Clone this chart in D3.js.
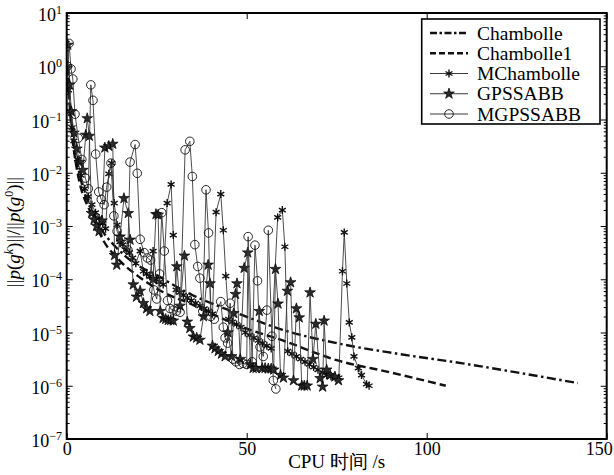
<!DOCTYPE html>
<html>
<head>
<meta charset="utf-8">
<script src="https://cdn.jsdelivr.net/npm/d3@7"></script>
<style>
  body { margin: 0; background: #fff; }
  svg text { font-family: "Liberation Serif", "Times New Roman", Times, "DejaVu Serif", serif; fill: #000; }
</style>
</head>
<body>
<svg id="chart" width="614" height="475"></svg>
<script>
// values: [CPU time (s), log10 of the ratio]
const chambolle = [
  [0.3, 0], [0.8, -0.6], [1.5, -1.2], [2.5, -1.65], [4, -2.15], [5, -2.4], [6, -2.55],
  [8, -2.85], [10, -3.1], [13, -3.35], [16, -3.55], [20, -3.75], [25, -3.92], [28.7, -4.07],
  [35, -4.3], [42, -4.5], [49, -4.68], [60, -4.95], [75, -5.2], [92, -5.4], [110, -5.58],
  [125, -5.75], [142, -5.95]
];
const chambolle1 = [
  [0.3, 0], [0.8, -0.7], [1.5, -1.3], [2.5, -1.8], [4, -2.3], [5, -2.5], [6, -2.65],
  [8, -2.95], [10, -3.25], [14, -3.6], [20, -3.95], [27, -4.25], [34, -4.45], [42, -4.7],
  [49, -4.9], [60, -5.15], [75, -5.52], [90, -5.75], [105.3, -6.0]
];
const mchambolle = [
  [0.15, 0], [0.5, -0.45], [1, -0.85], [1.5, -1.15], [2, -1.4], [3, -1.75], [4, -2.05],
  [5, -2.3], [6, -2.45], [7, -2.6], [8, -2.75], [9, -2.85], [10, -2.95], [10.8, -3.05],
  [11.7, -2.02], [12.5, -1.82], [13.2, -2.57], [14, -2.98], [14.8, -3.3], [15.6, -3.35],
  [16.5, -3.45], [17.4, -3.5], [18.3, -3.6], [19.2, -3.7], [20.4, -3.47], [21.3, -3.85],
  [22.2, -3.9], [23.1, -3.95], [24, -3.47], [24.9, -4.0], [25.8, -4.05], [26.8, -4.1],
  [27.9, -2.57], [29, -2.22], [29.6, -3.17], [30.4, -4.2], [31.4, -4.25], [32.4, -4.3],
  [33.5, -4.35], [34.6, -4.4], [35.8, -4.45], [37, -4.5], [38.2, -4.55], [39.4, -4.6],
  [40.5, -4.65], [41.5, -2.74], [42.8, -2.4], [43.5, -3.08], [44.2, -3.94], [45, -4.75],
  [46, -4.8], [47.2, -4.85], [48.4, -4.9], [49.6, -5.0], [50.8, -5.05], [52, -5.1],
  [53.2, -5.15], [54.4, -5.2], [55.6, -5.25], [56.8, -5.3], [58.6, -2.84], [59.9, -2.7],
  [60.6, -3.39], [61.4, -5.35], [62.6, -5.4], [63.8, -5.45], [65, -5.5], [66.2, -5.55],
  [67.4, -5.6], [68.6, -5.65], [69.8, -5.7], [71, -5.75], [72.2, -5.8], [73.4, -5.82],
  [74.6, -5.85], [75.6, -5.85], [76.6, -3.85], [77.1, -3.12], [77.8, -4.08], [78.5, -4.81],
  [79.2, -5.09], [79.8, -5.45], [81, -5.67], [81.9, -5.8], [83.3, -5.97], [84, -6.0]
];
const gpssabb = [
  [0.3, 0.4], [0.8, -0.35], [1.3, -0.85], [2, -1.25], [2.8, -1.55], [3.6, -1.8], [4.5, -1.95],
  [5.3, -1.29], [5.7, -0.98], [6.3, -1.31], [6.9, -2.76], [7.6, -2.88], [8.3, -3.0], [9, -3.1],
  [9.8, -2.9], [10.6, -1.53], [11.7, -1.5], [12.8, -1.46], [13.3, -3.55], [13.9, -3.73],
  [14.8, -3.2], [15.9, -2.48], [17.1, -2.76], [17.6, -3.26], [18.5, -4.1], [19.4, -4.33],
  [20.4, -4.22], [21.3, -4.45], [22.2, -4.55], [23.1, -4.6], [24, -4.0], [24.8, -2.78],
  [25.4, -2.79], [26, -4.6], [26.8, -4.73], [27.5, -4.75], [28.2, -4.77], [28.9, -4.77],
  [29.6, -4.78], [30.6, -3.76], [31.5, -4.5], [32.7, -3.56], [33.5, -4.8], [34.2, -4.92],
  [35.2, -5.08], [36.1, -5.1], [37, -5.14], [38, -4.7], [39.3, -3.73], [39.8, -4.08],
  [40.5, -5.25], [41.2, -5.3], [42.1, -5.35], [43, -5.4], [44, -5.45], [44.8, -5.0],
  [45.8, -5.45], [46.4, -4.64], [46.9, -4.28], [47.3, -4.08], [48.2, -5.5], [49.3, -3.79],
  [50.3, -3.5], [51, -5.6], [51.8, -5.67], [52.6, -5.67], [53.5, -4.6], [54.3, -5.67],
  [55.1, -5.67], [56, -5.68], [56.8, -5.68], [57.5, -5.7], [58, -3.81], [58.7, -4.46],
  [59.4, -5.8], [60.2, -5.85], [61.3, -4.22], [62.2, -4.06], [63, -5.9], [63.8, -4.55],
  [64.6, -4.72], [65.3, -6.0], [66, -6.0], [66.8, -6.0], [67.6, -4.25], [68.4, -5.5],
  [69.2, -4.84], [70.4, -5.86], [71.1, -6.02], [71.5, -4.78], [72.2, -5.7], [73.2, -5.8],
  [74.5, -5.83], [75.5, -5.9]
];
const mgpssabb = [
  [0.2, 0], [0.65, 0.43], [1.2, -0.05], [1.7, -0.24], [2.3, -0.9], [3.2, -1.35], [4.2, -1.75],
  [5.2, -2.1], [6, -2.3], [6.7, -0.35], [7.3, -0.64], [8.05, -1.65], [8.9, -2.36], [9.6, -2.5],
  [10.4, -2.6], [11.1, -2.27], [12.3, -1.82], [13.1, -2.81], [14, -3.1], [15, -3.25],
  [16, -3.35], [17, -3.45], [17.6, -1.8], [19, -1.47], [19.6, -2.01], [20.4, -3.25],
  [21.5, -3.5], [22.4, -3.6], [23.3, -3.64], [24.2, -4.2], [25, -4.37], [25.8, -3.9],
  [26.4, -2.75], [27.1, -3.47], [28, -4.4], [28.7, -4.55], [29.6, -4.58], [30.5, -4.6],
  [31.5, -4.62], [32.9, -1.57], [34.2, -1.41], [34.9, -2.07], [35.6, -3.35], [36.4, -3.76],
  [37, -3.98], [37.8, -4.6], [38.7, -2.32], [39.4, -3.13], [40, -4.7], [41, -4.75],
  [42.8, -4.42], [43.5, -4.9], [44, -5.1], [44.7, -5.2], [45.4, -4.45], [46.2, -5.5],
  [47, -5.55], [48, -5.6], [49, -5.58], [50, -5.6], [50.4, -3.2], [51.5, -5.55], [52.3, -3.36],
  [53, -4.03], [53.7, -5.27], [54.6, -5.45], [55.6, -4.58], [56, -3.08], [57, -5.07],
  [57.4, -5.9], [58.1, -6.06]
];

const xTicks = [0, 50, 100, 150];
const yExps = [-7, -6, -5, -4, -3, -2, -1, 0, 1];
const legendNames = ["Chambolle", "Chambolle1", "MChambolle", "GPSSABB", "MGPSSABB"];

const serif = "'Liberation Serif', 'Times New Roman', Times, 'DejaVu Serif', serif";
const W = 614, H = 475;
const plotL = 66.7, plotR = 606.7, plotT = 13, plotB = 439;

const svg = d3.select("#chart");
svg.append("rect").attr("width", W).attr("height", H).attr("fill", "#fff");

const x = d3.scaleLinear().domain([0, 150]).range([plotL, plotR]);
const y = d3.scaleLog().domain([1e-7, 10]).range([plotB, plotT]);

const px = d => x(d[0]);
const py = d => y(Math.pow(10, d[1]));

// minor log ticks: 2..9 in every decade
const minor = [];
yExps.slice(0, -1).forEach(e => {
  for (let k = 2; k <= 9; k++) minor.push(k * Math.pow(10, e));
});
const major = yExps.map(e => Math.pow(10, e));

function styleAxis(g) {
  g.attr("font-family", serif);
  g.select(".domain").remove();
  g.selectAll(".tick line").attr("stroke", "#000").attr("stroke-width", 1);
}

svg.append("g").attr("transform", `translate(${plotL},0)`)
  .call(d3.axisLeft(y).tickValues(minor).tickSize(-3).tickFormat(""))
  .call(styleAxis);
svg.append("g").attr("transform", `translate(${plotL},0)`)
  .call(d3.axisLeft(y).tickValues(major).tickSize(-6).tickFormat(""))
  .call(styleAxis);
svg.append("g").attr("transform", `translate(${plotR},0)`)
  .call(d3.axisRight(y).tickValues(minor).tickSize(-3).tickFormat(""))
  .call(styleAxis);
svg.append("g").attr("transform", `translate(${plotR},0)`)
  .call(d3.axisRight(y).tickValues(major).tickSize(-6).tickFormat(""))
  .call(styleAxis);
svg.append("g").attr("transform", `translate(0,${plotT})`)
  .call(d3.axisTop(x).tickValues(xTicks).tickSize(-6).tickFormat(""))
  .call(styleAxis);
const xAxis = svg.append("g").attr("transform", `translate(0,${plotB})`)
  .call(d3.axisBottom(x).tickValues(xTicks).tickSize(-6).tickPadding(3))
  .call(styleAxis);
xAxis.selectAll(".tick text")
  .attr("font-size", 18)
  .attr("fill", "#000")
  .attr("dx", d => d === 150 ? -8 : 0);

// y tick labels 10^e
const yLab = svg.append("g").attr("font-family", serif);
yExps.forEach(e => {
  const t = yLab.append("text")
    .attr("x", 62).attr("y", y(Math.pow(10, e)) + 8)
    .attr("text-anchor", "end")
    .attr("font-size", 18);
  t.append("tspan").text("10");
  t.append("tspan").attr("dy", -7).attr("font-size", 12)
    .text(e < 0 ? "\u2212" + (-e) : String(e));
});

// clip to plot area
svg.append("clipPath").attr("id", "clip")
  .append("rect").attr("x", plotL).attr("y", plotT)
  .attr("width", plotR - plotL).attr("height", plotB - plotT);
const plot = svg.append("g").attr("clip-path", "url(#clip)");

const smooth = d3.line().x(px).y(py).curve(d3.curveMonotoneX);
const straight = d3.line().x(px).y(py);

const dashDot = "9,3.5,2.5,3.5";
const dashed = "8,4";

plot.append("path").datum(chambolle).attr("d", smooth)
  .attr("fill", "none").attr("stroke", "#111").attr("stroke-width", 2.4)
  .attr("stroke-dasharray", dashDot);
plot.append("path").datum(chambolle1).attr("d", smooth)
  .attr("fill", "none").attr("stroke", "#111").attr("stroke-width", 2.4)
  .attr("stroke-dasharray", dashed);

// marker shapes
function asterisk(r) {
  const p = d3.path();
  for (let i = 0; i < 3; i++) {
    const a = Math.PI / 2 + i * Math.PI / 3;
    p.moveTo(-r * Math.cos(a), -r * Math.sin(a));
    p.lineTo(r * Math.cos(a), r * Math.sin(a));
  }
  return p.toString();
}
const starPath = d3.symbol().type(d3.symbolStar).size(36)();

function drawSeries(data, marker) {
  plot.append("path").datum(data).attr("d", straight)
    .attr("fill", "none").attr("stroke", "#3a3a3a").attr("stroke-width", 0.9);
  const g = plot.append("g");
  const m = g.selectAll("g").data(data).enter().append("g")
    .attr("transform", d => `translate(${px(d)},${py(d)})`);
  marker(m);
}

drawSeries(mchambolle, m => m.append("path").attr("d", asterisk(4))
  .attr("stroke", "#111").attr("stroke-width", 1.4).attr("fill", "none"));
drawSeries(gpssabb, m => m.append("path").attr("d", starPath)
  .attr("fill", "#2a2a2a").attr("stroke", "#000").attr("stroke-width", 0.7));
drawSeries(mgpssabb, m => m.append("circle").attr("r", 4.3)
  .attr("fill", "none").attr("stroke", "#111").attr("stroke-width", 0.9));

// frame
svg.append("rect").attr("x", plotL).attr("y", plotT)
  .attr("width", plotR - plotL).attr("height", plotB - plotT)
  .attr("fill", "none").attr("stroke", "#000").attr("stroke-width", 2);

// axis titles
svg.append("text").attr("x", (plotL + plotR) / 2).attr("y", 468)
  .attr("text-anchor", "middle").attr("font-size", 19)
  .text("CPU 时间 /s");

const yt = svg.append("text")
  .attr("transform", `translate(20,232) rotate(-90)`)
  .attr("text-anchor", "middle").attr("font-size", 19);
yt.append("tspan").text("||");
yt.append("tspan").attr("font-style", "italic").text("p");
yt.append("tspan").text("(");
yt.append("tspan").attr("font-style", "italic").text("g");
yt.append("tspan").attr("font-style", "italic").attr("font-size", 12).attr("dy", -7).text("k");
yt.append("tspan").attr("dy", 7).text(")||/||");
yt.append("tspan").attr("font-style", "italic").text("p");
yt.append("tspan").text("(");
yt.append("tspan").attr("font-style", "italic").text("g");
yt.append("tspan").attr("font-size", 12).attr("dy", -7).text("0");
yt.append("tspan").attr("dy", 7).text(")||");

// legend
const lg = svg.append("g");
lg.append("rect").attr("x", 421.7).attr("y", 19).attr("width", 178.3).attr("height", 105)
  .attr("fill", "#fff").attr("stroke", "#000").attr("stroke-width", 1.6);
const rows = d3.scalePoint().domain(legendNames).range([33, 114]);
legendNames.forEach((name, i) => {
  const cy = rows(name);
  const ln = lg.append("line").attr("x1", 430).attr("x2", 468).attr("y1", cy).attr("y2", cy)
    .attr("stroke", "#111");
  if (i === 0) ln.attr("stroke-width", 2.4).attr("stroke-dasharray", "7,2.5,2.5,2.5");
  else if (i === 1) ln.attr("stroke-width", 2.4).attr("stroke-dasharray", "6,3");
  else ln.attr("stroke-width", 1).attr("stroke", "#3a3a3a");
  const mg = lg.append("g").attr("transform", `translate(449,${cy})`);
  if (i === 2) mg.append("path").attr("d", asterisk(4)).attr("stroke", "#111").attr("stroke-width", 1.4);
  if (i === 3) mg.append("path").attr("d", starPath).attr("fill", "#2a2a2a").attr("stroke", "#000").attr("stroke-width", 0.7);
  if (i === 4) mg.append("circle").attr("r", 4.3).attr("fill", "none").attr("stroke", "#111").attr("stroke-width", 0.9);
  lg.append("text").attr("x", 477).attr("y", cy + 6.5).attr("font-size", 19.5).text(name);
});
</script>
</body>
</html>
